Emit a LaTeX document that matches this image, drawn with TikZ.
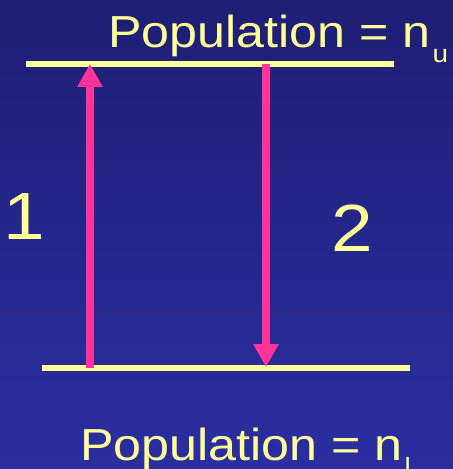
\documentclass[tikz,border=0pt]{standalone}
\usepackage{fontspec}
\newfontfamily\labfont[FakeStretch=1.12]{Liberation Sans}
\usetikzlibrary{arrows.meta}
\definecolor{bgtop}{RGB}{30,30,116}
\definecolor{bgbot}{RGB}{43,46,160}
\definecolor{lvlyellow}{RGB}{255,255,153}
\definecolor{arrpink}{RGB}{255,51,153}
\tikzset{
  level/.style={draw=lvlyellow,line width=5.5bp},
  trans/.style={draw=arrpink,line width=8bp,-{Triangle[width=24bp,length=23bp]}},
  lab/.style={text=lvlyellow,font=\labfont\fontsize{45}{50}\selectfont,inner sep=0pt},
  num/.style={text=lvlyellow,font=\labfont\fontsize{67}{70}\selectfont,inner sep=0pt},
}
\newcommand{\subsc}[1]{\hspace{2bp}{\fontsize{25}{25}\selectfont\raisebox{-15bp}{#1}}}
\begin{document}
\begin{tikzpicture}[x=1bp,y=-1bp]
\shade[top color=bgtop,bottom color=bgbot] (0,0) rectangle (453,469);
\useasboundingbox (0,0) rectangle (453,469);
% levels
\coordinate (ul) at (26,64);
\coordinate (ur) at (394,64);
\coordinate (ll) at (42,368);
\coordinate (lr) at (410,368);
\draw[level] (ul) -- (ur);
\draw[level] (ll) -- (lr);
% transitions
\coordinate (a1s) at (90,368);
\coordinate (a1e) at (90,64);
\coordinate (a2s) at (266,64);
\coordinate (a2e) at (266,367);
\draw[trans] (a1s) -- (a1e);
\draw[trans] (a2s) -- (a2e);
% labels
\node[lab,anchor=base west] (topl) at (108,48) {Population = n\subsc{u}};
\node[lab,anchor=base west] (botl) at (80,460) {Population = n\subsc{l}};
\node[num] (one) at (24,217) {1};
\node[num] (two) at (352,228) {2};
\end{tikzpicture}
\end{document}
